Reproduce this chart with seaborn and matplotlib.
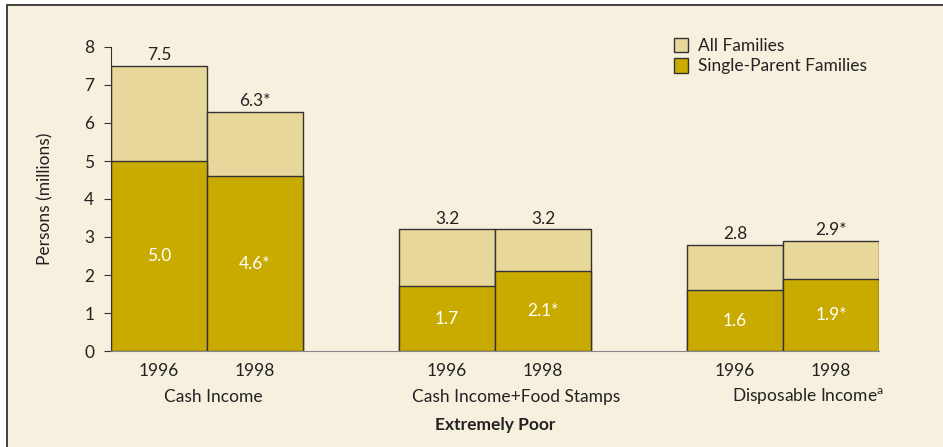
import numpy as np
import seaborn as sns
import matplotlib.pyplot as plt
from matplotlib.patches import Patch, Rectangle

# data
groups = ["Cash Income", "Cash Income+Food Stamps", "Disposable Income$^{\\mathregular{a}}$"]
years = ["1996", "1998"]
all_families = [7.5, 6.3, 3.2, 3.2, 2.8, 2.9]
single_parent = [5.0, 4.6, 1.7, 2.1, 1.6, 1.9]
all_labels = ["7.5", "6.3*", "3.2", "3.2", "2.8", "2.9*"]
single_labels = ["5.0", "4.6*", "1.7", "2.1*", "1.6", "1.9*"]

light = "#E8D79A"
dark = "#C9AB00"
bg = "#F8F0DF"
fs = 12.5

sns.set_style("white")
plt.rcParams['font.family'] = ['Lato', 'DejaVu Sans']

# bar centres: two bars per group, one empty slot between groups
pos = np.array([g * 3 + i + 0.5 for g in range(len(groups)) for i in range(len(years))])

fig = plt.figure(figsize=(9.43, 4.47), dpi=100)
fig.patch.set_facecolor("white")
fig.patches.append(Rectangle((7 / 943, -0.1), 1.2, (442 / 447) + 0.1, transform=fig.transFigure,
                             facecolor=bg, edgecolor="#333333", linewidth=1.3, zorder=-1))
ax = fig.add_axes([111 / 943, 96 / 447, 768 / 943, 304 / 447])
ax.set_facecolor(bg)
ax.patch.set_alpha(0)

sns.barplot(x=pos, y=all_families, native_scale=True, width=1, color=light,
            edgecolor="#333333", linewidth=1, saturation=1, ax=ax)
sns.barplot(x=pos, y=single_parent, native_scale=True, width=1, color=dark,
            edgecolor="#333333", linewidth=1, saturation=1, ax=ax)

for x, v, t in zip(pos, all_families, all_labels):
    ax.annotate(t, (x, v), xytext=(0, 2), textcoords="offset points",
                ha="center", va="bottom", fontsize=fs, color="#222222")
for x, v, t in zip(pos, single_parent, single_labels):
    ax.text(x, v / 2, t, ha="center", va="center", fontsize=fs, color="white")

ax.set_xlim(0, 8)
ax.set_ylim(0, 8)
ax.set_yticks(range(0, 9))
ax.set_xticks(range(0, 9))
ax.set_xticklabels([])
ax.set_xticks(pos, minor=True)
ax.set_xticklabels(years * len(groups), minor=True, fontsize=fs, color="#222222")
ax.tick_params(axis="x", which="major", length=3, color="#888888", direction="out")
ax.tick_params(axis="x", which="minor", length=0, pad=9)
ax.tick_params(axis="y", length=5, color="#333333", labelsize=fs, labelcolor="#222222", pad=7, left=True)

for s in ["top", "right"]:
    ax.spines[s].set_visible(False)
ax.spines["left"].set_color("#333333")
ax.spines["bottom"].set_color("#888888")
ax.set_xlabel("")
ax.set_ylabel("Persons (millions)", fontsize=fs, color="#222222", labelpad=22)

group_x = [1.07, 4.22, 7.26]
for gx, name in zip(group_x, groups):
    ax.text(gx, -1.2, name, ha="center", va="center", fontsize=fs, color="#222222")
ax.text(4.0, -1.95, "Extremely Poor", ha="center", va="center", fontsize=fs,
        fontweight="bold", color="#222222")

handles = [Patch(facecolor=light, edgecolor="#333333"), Patch(facecolor=dark, edgecolor="#333333")]
fig.legend(handles, ["All Families", "Single-Parent Families"], loc="upper left",
           bbox_to_anchor=(658 / 943, 1 - 22 / 447), frameon=False, fontsize=fs,
           handlelength=0.8, handleheight=0.9, handletextpad=0.6, labelspacing=0.25,
           labelcolor="#222222")

fig.savefig("out.png", dpi=100, facecolor="white")
